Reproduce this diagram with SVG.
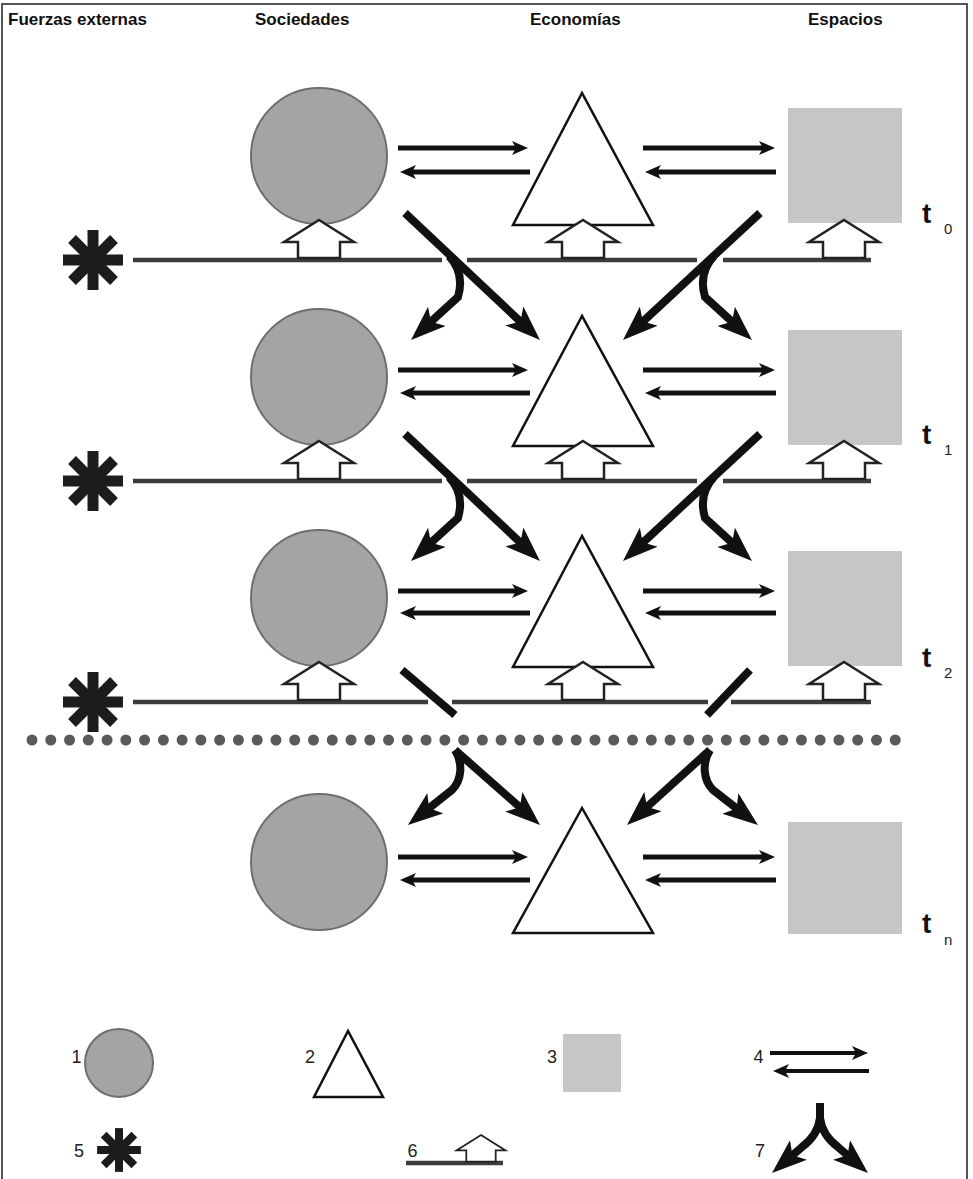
<svg xmlns="http://www.w3.org/2000/svg" width="973" height="1179" viewBox="0 0 973 1179">
<style>
.hdr{font-family:"Liberation Sans",Arial,sans-serif;font-weight:bold;font-size:17px;fill:#111}
.t{font-family:"Liberation Sans",Arial,sans-serif;font-weight:bold;font-size:28px;fill:#111}
.sub{font-family:"Liberation Sans",Arial,sans-serif;font-size:15px;fill:#222}
.num{font-family:"Liberation Sans",Arial,sans-serif;font-size:18px;fill:#222;text-anchor:middle}
.soc{fill:#a4a4a4;stroke:#6e6e6e;stroke-width:2}
.eco{fill:#fff;stroke:#111;stroke-width:2.5}
.esp{fill:#c6c6c6}
.tl{stroke:#3c3c3c;stroke-width:4.5;fill:none}
.house{fill:#fff;stroke:#222;stroke-width:2.5}
.thin{stroke:#111;stroke-width:5;fill:none;marker-end:url(#mt)}
.thick{stroke:#111;stroke-width:8;fill:none;marker-end:url(#mb)}
.ast{stroke:#1c1c1c;stroke-width:11}
</style>
<defs>
<marker id="mt" viewBox="0 0 16 14" markerWidth="16" markerHeight="14" refX="8" refY="7" orient="auto" markerUnits="userSpaceOnUse"><path d="M0,0 L16,7 L0,14 L4,7 z" fill="#111"/></marker>
<marker id="mb" viewBox="0 0 35 26" markerWidth="35" markerHeight="26" refX="14" refY="13" orient="auto" markerUnits="userSpaceOnUse"><path d="M0,0 L35,13 L0,26 L8,13 z" fill="#111"/></marker>
<path id="house" d="M0,0 L35,22 L21,22 L21,38 L-21,38 L-21,22 L-35,22 Z"/>
<g id="ast"><line x1="-30" y1="0" x2="30" y2="0"/><line x1="0" y1="-30" x2="0" y2="30"/><line x1="-21" y1="-21" x2="21" y2="21"/><line x1="-21" y1="21" x2="21" y2="-21"/></g>
</defs>
<rect width="973" height="1179" fill="#fff"/>
<path d="M2,1179 V4 H967 V1179" fill="none" stroke="#555" stroke-width="2"/>

<g id="headers">
<text class="hdr" x="8" y="25">Fuerzas externas</text>
<text class="hdr" x="255" y="25">Sociedades</text>
<text class="hdr" x="530" y="25">Economías</text>
<text class="hdr" x="808" y="25">Espacios</text>
</g>

<g id="timelines">
<path class="tl" d="M133,260 H442 M467,260 H697 M723,260 H871"/>
<path class="tl" d="M133,481 H442 M467,481 H697 M723,481 H871"/>
<path class="tl" d="M133,702 H428 M452,702 H708 M731,702 H871"/>
<line x1="32" y1="740" x2="914" y2="740" stroke="#5a5a5a" stroke-width="11" stroke-linecap="round" stroke-dasharray="0 18.766"/>
</g>

<g id="forces">
<use href="#ast" class="ast" transform="translate(93,260)"/>
<use href="#ast" class="ast" transform="translate(93,481)"/>
<use href="#ast" class="ast" transform="translate(93,702)"/>
</g>

<g id="row-t0">
<g id="soc-0"><circle class="soc" cx="319" cy="156" r="68"/></g>
<g id="eco-0"><polygon class="eco" points="582,93 513,225 653,225"/></g>
<g id="esp-0"><rect class="esp" x="788" y="108" width="114" height="115"/></g>
<use href="#house" class="house" transform="translate(319,220)"/>
<use href="#house" class="house" transform="translate(583,220)"/>
<use href="#house" class="house" transform="translate(844,220)"/>
</g>
<g id="row-t1">
<g id="soc-1"><circle class="soc" cx="319" cy="377" r="68"/></g>
<g id="eco-1"><polygon class="eco" points="582,316 513,446 653,446"/></g>
<g id="esp-1"><rect class="esp" x="788" y="330" width="114" height="115"/></g>
<use href="#house" class="house" transform="translate(319,441)"/>
<use href="#house" class="house" transform="translate(583,441)"/>
<use href="#house" class="house" transform="translate(844,441)"/>
</g>
<g id="row-t2">
<g id="soc-2"><circle class="soc" cx="319" cy="598" r="68"/></g>
<g id="eco-2"><polygon class="eco" points="582,536 513,667 653,667"/></g>
<g id="esp-2"><rect class="esp" x="788" y="551" width="114" height="115"/></g>
<use href="#house" class="house" transform="translate(319,662)"/>
<use href="#house" class="house" transform="translate(583,662)"/>
<use href="#house" class="house" transform="translate(844,662)"/>
</g>
<g id="row-tn">
<g id="soc-n"><circle class="soc" cx="319" cy="862" r="68"/></g>
<g id="eco-n"><polygon class="eco" points="582,808 513,933 653,933"/></g>
<g id="esp-n"><rect class="esp" x="788" y="822" width="114" height="112"/></g>
</g>

<g id="time-labels">
<text class="t" x="922" y="223">t</text><text class="sub" x="944" y="234">0</text>
<text class="t" x="922" y="444">t</text><text class="sub" x="944" y="455">1</text>
<text class="t" x="922" y="667">t</text><text class="sub" x="944" y="678">2</text>
<text class="t" x="922" y="933">t</text><text class="sub" x="944" y="945">n</text>
</g>

<g id="connectors">
<path class="thin" d="M398,148 H520"/><path class="thin" d="M530,172 H408"/>
<path class="thin" d="M643,148 H767"/><path class="thin" d="M776,172 H653"/>
<path class="thin" d="M398,370 H520"/><path class="thin" d="M530,393 H408"/>
<path class="thin" d="M643,370 H767"/><path class="thin" d="M776,393 H653"/>
<path class="thin" d="M398,591 H520"/><path class="thin" d="M530,613 H408"/>
<path class="thin" d="M643,591 H767"/><path class="thin" d="M776,613 H653"/>
<path class="thin" d="M398,857 H520"/><path class="thin" d="M530,880 H408"/>
<path class="thin" d="M643,857 H767"/><path class="thin" d="M776,880 H653"/>

<path class="thick" d="M405,213 L524.7,325.6"/>
<path class="thick" d="M449,256 Q465,273 458,297 L426.5,325.8"/>
<path class="thick" d="M760,213 L638.4,325.7"/>
<path class="thick" d="M714,256 Q698,273 705,297 L736.5,325.8"/>

<path class="thick" d="M405,434 L524.7,546.6"/>
<path class="thick" d="M449,477 Q465,494 458,518 L426.5,546.8"/>
<path class="thick" d="M760,434 L638.4,546.7"/>
<path class="thick" d="M714,477 Q698,494 705,518 L736.5,546.8"/>

<path d="M402,670 L455,715 M750,670 L707,715" stroke="#111" stroke-width="8" fill="none"/>

<path class="thick" d="M455,750 L524.3,811.1"/>
<path class="thick" d="M455,750 C463,763 462,780 452,790 L424.4,811.9"/>
<path class="thick" d="M710,750 L642.6,810.9"/>
<path class="thick" d="M710,750 C702,763 703,780 713,790 L741.4,812.1"/>
</g>

<g id="legend">
<text class="num" x="76.5" y="1063">1</text>
<circle class="soc" cx="119" cy="1063" r="34"/>
<text class="num" x="310" y="1063">2</text>
<polygon class="eco" points="348,1031 314,1097 383,1097"/>
<text class="num" x="552" y="1063">3</text>
<rect class="esp" x="563" y="1034" width="58" height="58"/>
<text class="num" x="758.5" y="1063">4</text>
<path d="M770,1053 H860" stroke="#111" stroke-width="4" fill="none" marker-end="url(#mt)"/>
<path d="M869,1071 H781" stroke="#111" stroke-width="4" fill="none" marker-end="url(#mt)"/>
<text class="num" x="79" y="1157">5</text>
<use href="#ast" class="ast" transform="translate(119,1150) scale(0.73)"/>
<text class="num" x="412.5" y="1157">6</text>
<line x1="406" y1="1163" x2="503" y2="1163" class="tl"/>
<use href="#house" class="house" transform="translate(481,1135) scale(0.7)"/>
<text class="num" x="760" y="1157">7</text>
<path class="thick" d="M820,1103 L820,1118 Q818,1135 802,1147 L787.9,1159.2"/>
<path class="thick" d="M820,1118 Q822,1135 838,1147 L852.1,1159.2"/>
</g>
</svg>
